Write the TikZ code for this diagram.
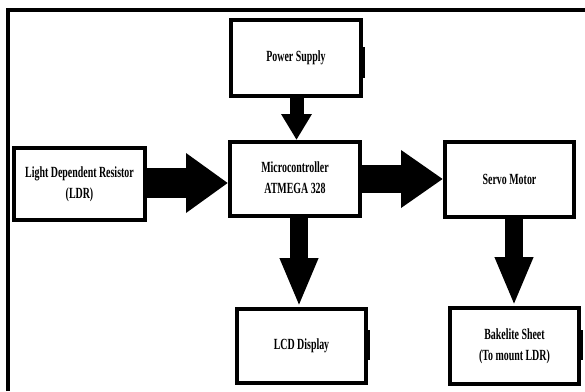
\documentclass[tikz,border=0pt]{standalone}
\usepackage{fontspec}
\setmainfont{Liberation Serif}
\usetikzlibrary{arrows.meta}
\newcommand\sqz[1]{\scalebox{0.64}[1]{#1}}
\tikzset{
  blockbox/.style={draw, line width=4pt, outer sep=2pt, inner sep=0pt,
    minimum width=#1, align=center,
    font=\bfseries\fontsize{15.5}{20.5}\selectfont},
  bigarrow/.style n args={3}{line width=#1, -{Triangle[length=#2, width=#3]}},
  stub/.style={line width=1.5pt},
  frame/.style={line width=4pt}
}
\begin{document}
\begin{tikzpicture}[x=1pt,y=-1pt]
\useasboundingbox[fill=white] (0,0) rectangle (585,391);
% outer frame
\coordinate (fb) at (7.5,391);
\coordinate (fc) at (7.5,10);
\coordinate (fr) at (585,10);
\draw[frame] (fb) -- (fc) -- (fr);

% boxes
\node[blockbox=130pt, minimum height=76pt] (pw) at (296,58) {\sqz{Power Supply}};
\node[blockbox=130pt, minimum height=74pt] (mc) at (295,179) {\sqz{\begin{tabular}{@{}c@{}}Microcontroller\\ATMEGA 328\end{tabular}}};
\node[blockbox=131pt, minimum height=72pt] (ldr) at (79.5,184) {\sqz{\begin{tabular}{@{}c@{}}Light Dependent Resistor\\(LDR)\end{tabular}}};
\node[blockbox=129pt, minimum height=75pt] (sv) at (509.5,179.5) {\sqz{Servo Motor}};
\node[blockbox=129pt, minimum height=74pt] (lcd) at (301.5,346) {\sqz{LCD Display}};
\node[blockbox=129pt, minimum height=76pt] (bk) at (514.5,346) {\sqz{\begin{tabular}{@{}c@{}}Bakelite Sheet\\(To mount LDR)\end{tabular}}};

% small right-edge marks
\draw[stub] ([xshift=1pt,yshift=11pt]pw.east) -- ([xshift=1pt,yshift=-20pt]pw.east);
\draw[stub] ([xshift=1pt,yshift=16pt]lcd.east) -- ([xshift=1pt,yshift=-14pt]lcd.east);
\draw[stub] ([xshift=1pt,yshift=16pt]bk.east) -- ([xshift=1pt,yshift=-14pt]bk.east);

% block arrows
\draw[bigarrow={14pt}{26pt}{29pt}] ([xshift=0.5pt]pw.south) -- ([xshift=1.5pt]mc.north);
\draw[bigarrow={30pt}{42pt}{57pt}] ([yshift=1pt]ldr.east) -- ([yshift=-4pt]mc.west);
\draw[bigarrow={28pt}{42pt}{55pt}] (mc.east) -- ([yshift=0.5pt]sv.west);
\draw[bigarrow={18pt}{49pt}{35pt}] ([xshift=4pt]mc.south) -- ([xshift=-2.5pt]lcd.north);
\draw[bigarrow={18pt}{49pt}{35pt}] ([xshift=4.5pt]sv.south) -- ([xshift=-0.5pt]bk.north);
\end{tikzpicture}
\end{document}
